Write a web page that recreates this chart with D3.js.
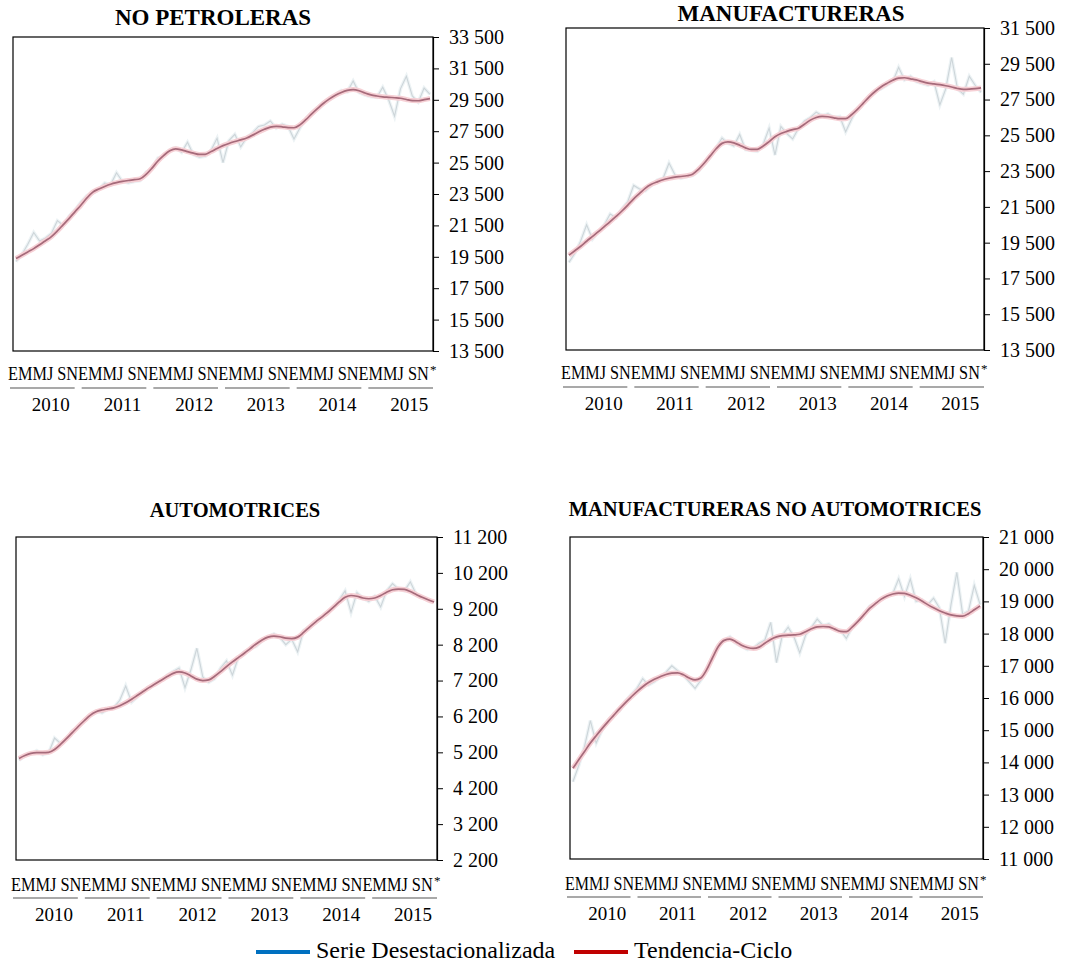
<!DOCTYPE html>
<html>
<head>
<meta charset="utf-8">
<script src="https://cdn.jsdelivr.net/npm/d3@7"></script>
<style>
  body { margin: 0; background: #fff; }
  svg { display: block; font-family: 'Liberation Serif', 'Times New Roman', serif; }
  .panel-title { font-weight: bold; text-anchor: middle; fill: #000; }
  .y-axis text { font-size: 20px; fill: #000; font-family: 'Liberation Serif', serif; }
  .y-axis path, .y-axis line { stroke: #000; }
  .month-row { font-size: 19px; fill: #000; }
  .year-label { font-size: 19px; fill: #000; text-anchor: middle; }
  .legend-text { font-size: 24px; fill: #000; }
</style>
</head>
<body>
<svg id="chart" width="1084" height="964"></svg>
<script>
// categorias del eje x
const years = [2010, 2011, 2012, 2013, 2014, 2015];
const monthLetters = ['E', 'M', 'M', 'J', 'S', 'N'];

// NO PETROLERAS
const noPetSerie = [
  19200, 19650, 20300, 21050, 20500, 20700, 21000, 21800, 21500, 22100, 22500, 23000,
  23400, 23550, 23800, 24200, 24100, 24850, 24300, 24200, 24300, 24350, 24900, 25100,
  25800, 25900, 26300, 26450, 26150, 26800, 26000, 25850, 25900, 26300, 27050, 25500,
  26900, 27300, 26500, 27100, 27400, 27800, 27900, 28150, 27700, 27950, 27800, 27000,
  27700, 28300, 28700, 29000, 29350, 29500, 29800, 30100, 30000, 30700, 29950, 29800,
  29700, 29650, 30300, 29500, 28450, 30200, 31000, 29750, 29350, 30250, 29850,
];
const noPetTend = [
  19390, 19600, 19810, 20020, 20270, 20520, 20790, 21150, 21550, 21950, 22380, 22800,
  23250, 23620, 23820, 23980, 24120, 24220, 24300, 24360, 24410, 24470, 24750, 25150,
  25600, 25960, 26250, 26380, 26310, 26200, 26100, 26020, 26030, 26200, 26400, 26580,
  26720, 26840, 26950, 27070, 27250, 27450, 27620, 27760, 27810, 27780, 27730, 27720,
  27900, 28230, 28600, 28950, 29280, 29560, 29790, 29970, 30100, 30150, 30080, 29930,
  29810, 29740, 29690, 29660, 29630, 29600, 29520, 29450, 29440, 29510, 29580,
];
const noPetTicks = [13500, 15500, 17500, 19500, 21500, 23500, 25500, 27500, 29500, 31500, 33500];

// MANUFACTURERAS
const manufSerie = [
  18400, 18900, 19600, 20500, 19700, 20100, 20500, 21100, 20900, 21400, 21800, 22700,
  22500, 22400, 22700, 23000, 23100, 23950, 23300, 23100, 23200, 23250, 23500, 23900,
  24300, 24800, 25350, 25050, 24900, 25550, 24700, 24650, 24600, 25000, 25900, 24400,
  26000, 25600, 25300, 25900, 26300, 26500, 26800, 26600, 26700, 26500, 26550, 25700,
  26400, 27000, 27300, 27700, 28000, 28100, 28300, 28500, 29300, 28600, 28800, 28500,
  28400, 28300, 28500, 27200, 28100, 29850, 28100, 27800, 28800, 28300, 27900,
];
const manufTend = [
  18800, 19050, 19300, 19580, 19850, 20120, 20400, 20680, 20970, 21270, 21600, 21950,
  22250, 22550, 22760, 22900, 23020, 23100, 23160, 23200, 23240, 23330, 23600, 23950,
  24350, 24750, 25050, 25130, 25080, 24950, 24800, 24710, 24720, 24900, 25150, 25420,
  25600, 25720, 25820, 25900, 26120, 26350, 26500, 26560, 26540, 26480, 26430, 26430,
  26650, 26950, 27300, 27650, 27950, 28200, 28400, 28580, 28700, 28720, 28660, 28600,
  28500, 28420, 28380, 28330, 28270, 28200, 28120, 28070, 28080, 28110, 28150,
];
const manufTicks = [13500, 15500, 17500, 19500, 21500, 23500, 25500, 27500, 29500, 31500];

// AUTOMOTRICES
const autoSerie = [
  4980, 5100, 5150, 5250, 5130, 5180, 5600, 5450, 5550, 5800, 5900, 6100,
  6250, 6350, 6300, 6400, 6450, 6650, 7050, 6600, 6750, 6900, 7000, 7150,
  7200, 7350, 7450, 7550, 7000, 7500, 8100, 7300, 7150, 7250, 7550, 7750,
  7350, 7850, 8000, 8100, 8150, 8300, 8400, 8500, 8400, 8200, 8350, 8000,
  8600, 8700, 8800, 8950, 9100, 9250, 9450, 9700, 9100, 9650, 9500, 9400,
  9550, 9250, 9700, 9900, 9750, 9700, 9950, 9600, 9500, 9450, 9380,
];
const autoTend = [
  5030, 5110, 5170, 5190, 5190, 5200, 5280, 5420, 5580, 5750, 5920, 6080,
  6230, 6330, 6380, 6410, 6440, 6500, 6580, 6680, 6790, 6900, 7010, 7110,
  7210, 7310, 7400, 7440, 7410, 7330, 7240, 7200, 7220, 7320, 7450, 7590,
  7720, 7840, 7960, 8090, 8220, 8330, 8410, 8440, 8420, 8380, 8370, 8410,
  8540, 8690, 8830, 8960, 9090, 9240, 9390, 9520, 9570, 9550, 9500, 9480,
  9500, 9570, 9660, 9730, 9750, 9740, 9680, 9600, 9520, 9450, 9390,
];
const autoTicks = [2200, 3200, 4200, 5200, 6200, 7200, 8200, 9200, 10200, 11200];

// MANUFACTURERAS NO AUTOMOTRICES
const noAutoSerie = [
  13400, 13900, 14500, 15300, 14600, 15000, 15300, 15500, 15600, 15900, 16100, 16300,
  16600, 16400, 16500, 16650, 16800, 17000, 16850, 16700, 16500, 16300, 16550, 16900,
  17300, 17650, 17800, 17900, 17700, 17600, 17500, 17550, 17700, 17800, 18350, 17100,
  17950, 18200, 17900, 17400, 17950, 18200, 18450, 18250, 18300, 18150, 18100, 17850,
  18200, 18400, 18600, 18850, 18950, 19050, 19150, 19250, 19700, 19150, 19700, 19000,
  19050, 18900, 19100, 18800, 17700, 18900, 19900, 18600, 18700, 19500, 18900,
];
const noAutoTend = [
  13820, 14080, 14340, 14600, 14830, 15050, 15260, 15460, 15660, 15850, 16030, 16200,
  16350, 16480, 16580, 16660, 16730, 16770, 16780, 16720, 16620, 16560, 16620, 16880,
  17250, 17600, 17790, 17830, 17750, 17640, 17570, 17540, 17580, 17700, 17820, 17900,
  17940, 17950, 17960, 17980, 18060, 18150, 18210, 18220, 18210, 18140, 18070, 18060,
  18200, 18380, 18580, 18780, 18930, 19070, 19170, 19230, 19260, 19250, 19190, 19110,
  19010, 18900, 18800, 18710, 18640, 18580, 18550, 18540, 18620, 18740, 18860,
];
const noAutoTicks = [11000, 12000, 13000, 14000, 15000, 16000, 17000, 18000, 19000, 20000, 21000];

const legendLabels = ['Serie Desestacionalizada', 'Tendencia-Ciclo'];

// ---- layout de los cuatro paneles ----
const panels = [
  { title: 'NO PETROLERAS', serie: noPetSerie, tend: noPetTend, ticks: noPetTicks,
    left: 13, top: 37, right: 433, bottom: 351, titleX: 213, titleY: 25, titleSize: 23,
    monthY: 380, lineY: 388, yearY: 411 },
  { title: 'MANUFACTURERAS', serie: manufSerie, tend: manufTend, ticks: manufTicks,
    left: 566, top: 28, right: 984, bottom: 350, titleX: 791, titleY: 21, titleSize: 23,
    monthY: 379, lineY: 387, yearY: 410 },
  { title: 'AUTOMOTRICES', serie: autoSerie, tend: autoTend, ticks: autoTicks,
    left: 16, top: 537, right: 437, bottom: 860, titleX: 235, titleY: 517, titleSize: 20.5,
    monthY: 891, lineY: 898, yearY: 921 },
  { title: 'MANUFACTURERAS NO AUTOMOTRICES', serie: noAutoSerie, tend: noAutoTend, ticks: noAutoTicks,
    left: 570, top: 537, right: 983, bottom: 859, titleX: 775, titleY: 516, titleSize: 20.5,
    monthY: 890, lineY: 897, yearY: 920 },
];

const locale = d3.formatLocale({ decimal: ',', thousands: ' ', grouping: [3], currency: ['', ''] });
const fmt = locale.format(',');

const svg = d3.select('#chart');
const nMonths = noPetTend.length;

function drawPanel(p) {
  const g = svg.append('g');

  const x = d3.scalePoint()
    .domain(d3.range(nMonths))
    .range([p.left, p.right])
    .padding(0.5);
  const y = d3.scaleLinear()
    .domain(d3.extent(p.ticks))
    .range([p.bottom, p.top]);

  // marco
  g.append('rect')
    .attr('x', p.left)
    .attr('y', p.top)
    .attr('width', p.right - p.left)
    .attr('height', p.bottom - p.top)
    .attr('fill', 'none')
    .attr('stroke', '#000')
    .attr('stroke-width', 1.2);

  // eje derecho
  g.append('g')
    .attr('class', 'y-axis')
    .attr('transform', `translate(${p.right},0)`)
    .call(d3.axisRight(y).tickValues(p.ticks).tickSize(6).tickPadding(10).tickFormat(fmt))
    .call((a) => a.select('.domain').attr('stroke-width', 1.2));

  const line = d3.line()
    .x((d, i) => x(i))
    .y((d) => y(d));
  const smooth = d3.line()
    .x((d, i) => x(i))
    .y((d) => y(d))
    .curve(d3.curveMonotoneX);

  // serie desestacionalizada (muy tenue en el original)
  g.append('path')
    .datum(p.serie)
    .attr('d', line)
    .attr('fill', 'none')
    .attr('stroke', '#edf3f5')
    .attr('stroke-width', 3.5);
  g.append('path')
    .datum(p.serie)
    .attr('d', line)
    .attr('fill', 'none')
    .attr('stroke', '#cdd5d9')
    .attr('stroke-width', 1.1);

  // tendencia-ciclo
  g.append('path')
    .datum(p.tend)
    .attr('d', smooth)
    .attr('fill', 'none')
    .attr('stroke', '#f6d0d5')
    .attr('stroke-width', 5);
  g.append('path')
    .datum(p.tend)
    .attr('d', smooth)
    .attr('fill', 'none')
    .attr('stroke', '#a66a7a')
    .attr('stroke-width', 1.7);

  // titulo
  g.append('text')
    .attr('class', 'panel-title')
    .attr('x', p.titleX)
    .attr('y', p.titleY)
    .attr('font-size', p.titleSize)
    .text(p.title);

  // etiquetas de meses (una sola linea comprimida, como en el original) y anos
  const band = d3.scaleBand()
    .domain(years)
    .range([p.left - 5, p.right + 5]);
  const bw = band.bandwidth();
  const rowStart = band(years[0]);
  const rowLen = bw * years.length - 9;
  const group = monthLetters.slice(0, 4).join('') + ' ' + monthLetters.slice(4).join('');

  const row = g.append('text')
    .attr('class', 'month-row')
    .text(years.map(() => group).join(''));
  const natural = row.node().getComputedTextLength();
  row.attr('transform', `translate(${rowStart},${p.monthY}) scale(${rowLen / natural},1)`);

  g.append('text')
    .attr('x', rowStart + rowLen + 1)
    .attr('y', p.monthY - 6)
    .attr('font-size', 13)
    .text('*');

  years.forEach((yr) => {
    const x0 = band(yr);
    g.append('line')
      .attr('x1', x0 + 2)
      .attr('x2', x0 + bw - 5)
      .attr('y1', p.lineY)
      .attr('y2', p.lineY)
      .attr('stroke', '#555')
      .attr('stroke-width', 1.2);
    g.append('text')
      .attr('class', 'year-label')
      .attr('x', x0 + bw / 2 + 7)
      .attr('y', p.yearY)
      .text(yr);
  });
}

panels.forEach(drawPanel);

// leyenda
const legend = svg.append('g').attr('transform', 'translate(0,952)');
const legendColors = ['#0070c0', '#c00000'];
const legendX = [256, 574];
legendLabels.forEach((lab, i) => {
  legend.append('line')
    .attr('x1', legendX[i])
    .attr('x2', legendX[i] + 54)
    .attr('y1', 0)
    .attr('y2', 0)
    .attr('stroke', legendColors[i])
    .attr('stroke-width', 4);
  legend.append('text')
    .attr('class', 'legend-text')
    .attr('x', legendX[i] + 60)
    .attr('y', 6)
    .text(lab);
});
</script>
</body>
</html>
